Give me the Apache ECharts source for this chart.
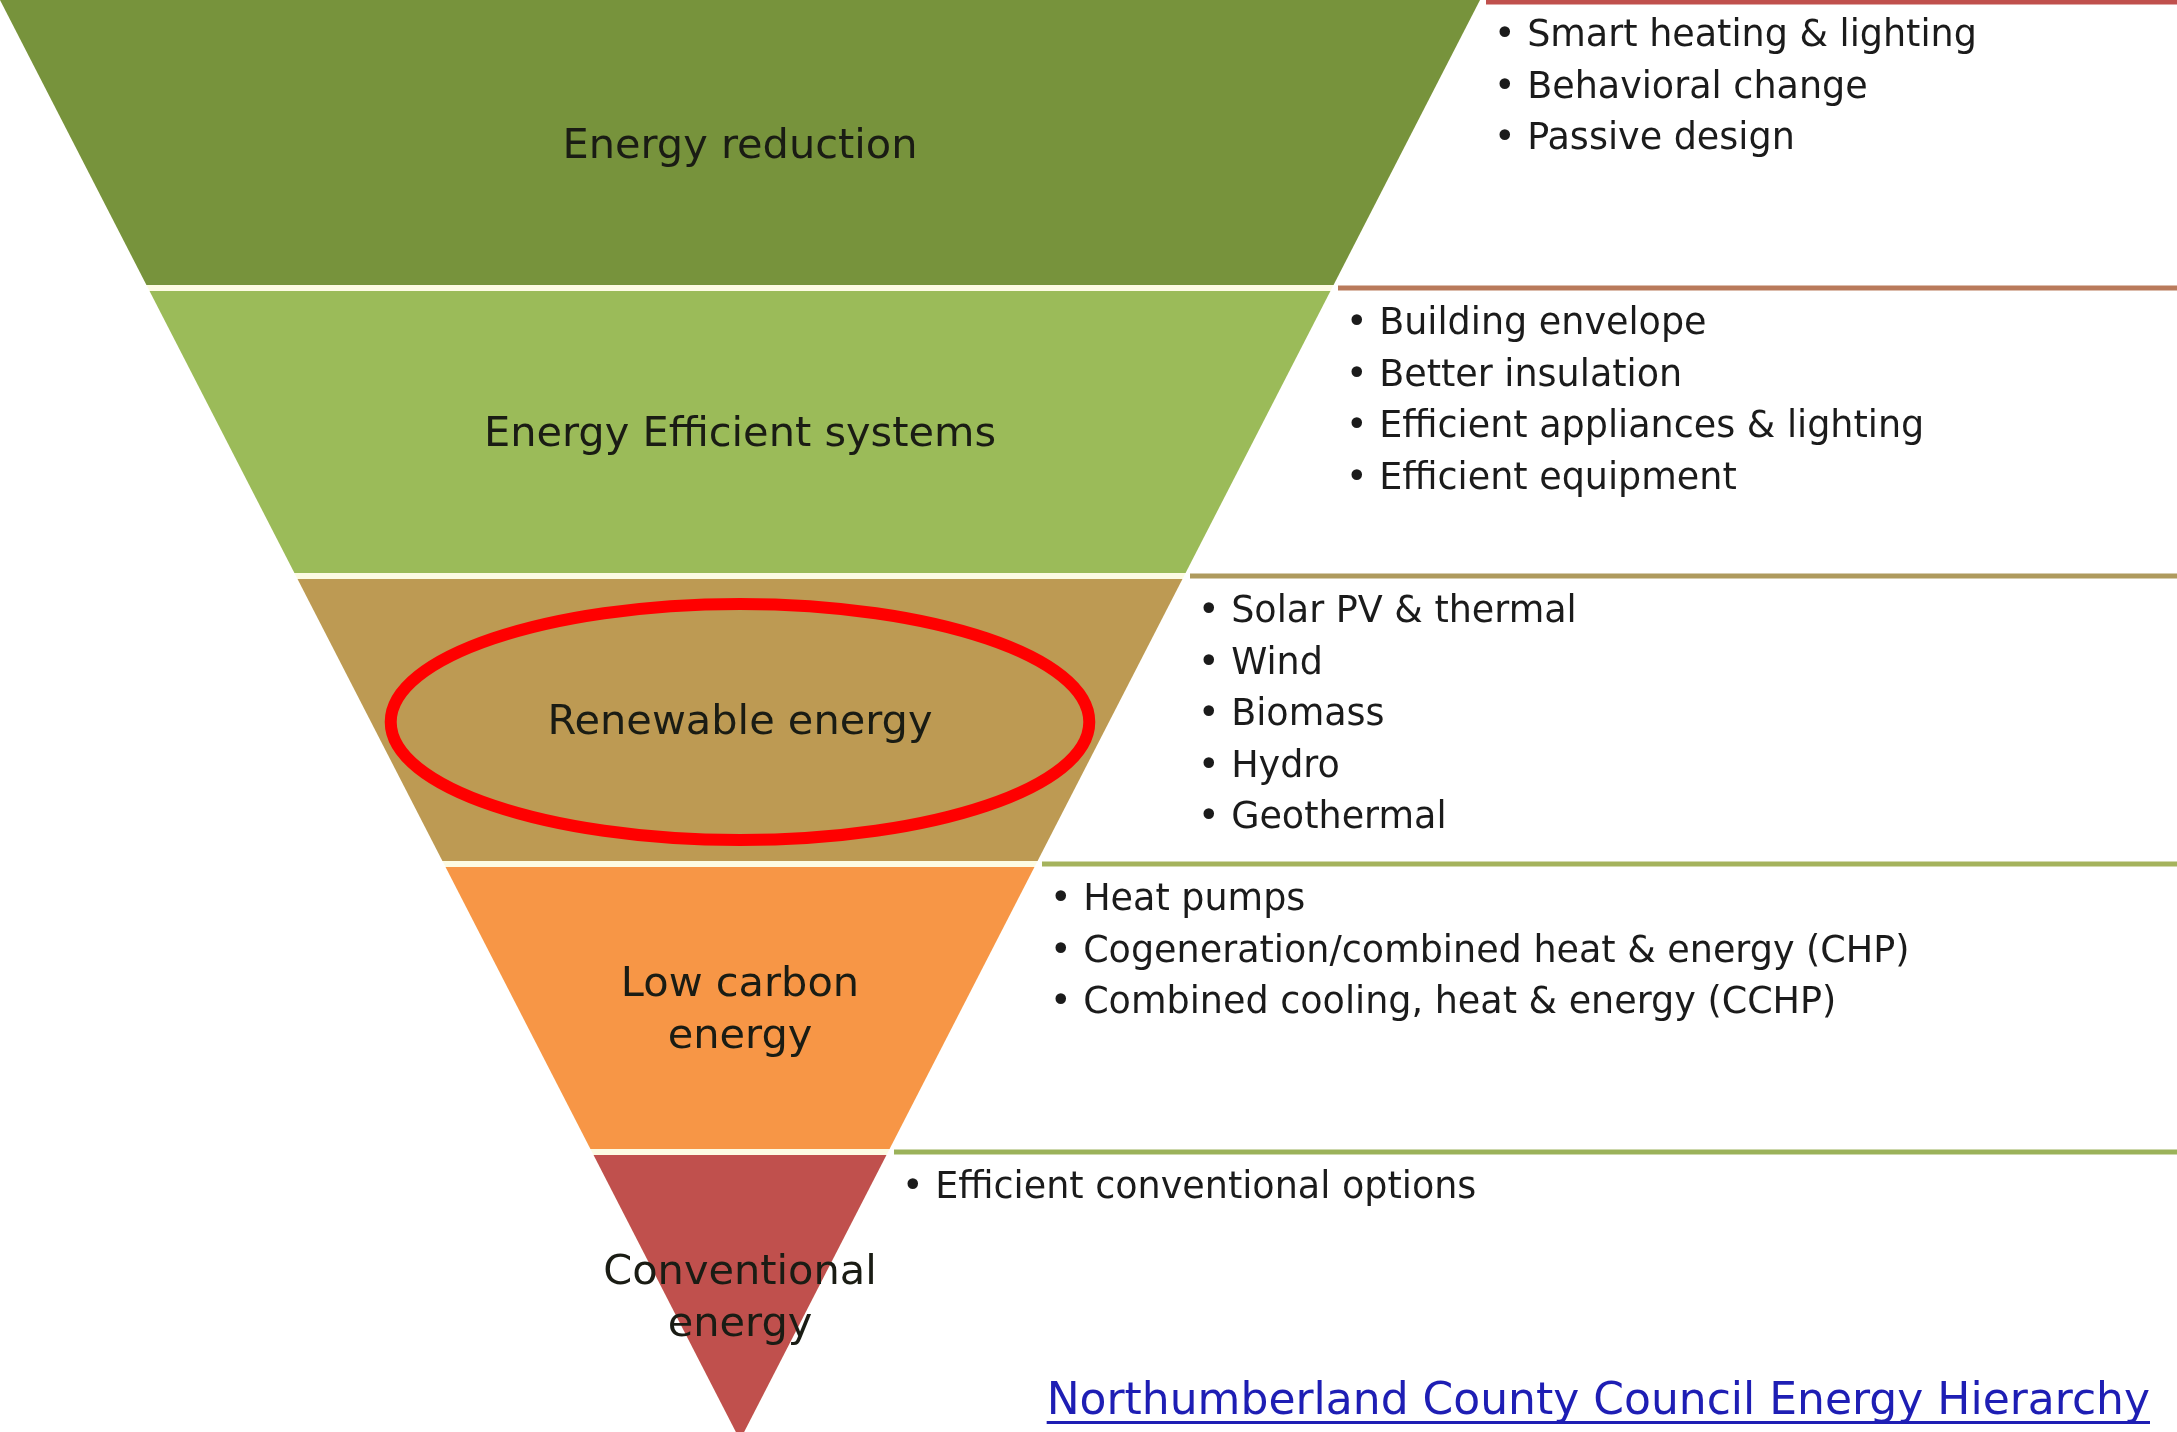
<!DOCTYPE html>
<html lang="en">
<head>
<meta charset="UTF-8">
<title>Energy Hierarchy</title>
<script src="https://cdn.jsdelivr.net/npm/echarts@6/dist/echarts.min.js"></script>
<style>
  html, body { margin: 0; padding: 0; background: #fff; }
  #main { width: 2177px; height: 1432px; }
</style>
</head>
<body>
<div id="main"></div>
<script type="text/javascript">
// tiers of the hierarchy, from top (preferred) to bottom
var tiers = ['Energy reduction', 'Energy Efficient systems', 'Renewable energy', 'Low carbon\nenergy', 'Conventional\nenergy'];
// width of the pyramid at the top edge of each tier, last value = apex
var tierWidths = [100, 80, 60, 40, 20, 0];
var tierColors = ['#77933C', '#9BBB59', '#BD9A53', '#F79646', '#C0504D'];
var ruleColors = ['#C0504D', '#B97A5B', '#AE9A5E', '#A5B35D', '#9BB25A'];
var measures = [
    ['Smart heating & lighting', 'Behavioral change', 'Passive design'],
    ['Building envelope', 'Better insulation', 'Efficient appliances & lighting', 'Efficient equipment'],
    ['Solar PV & thermal', 'Wind', 'Biomass', 'Hydro', 'Geothermal'],
    ['Heat pumps', 'Cogeneration/combined heat & energy (CHP)', 'Combined cooling, heat & energy (CCHP)'],
    ['Efficient conventional options']
];
var highlighted = 2; // tier circled in red
var source = 'Northumberland County Council Energy Hierarchy';

var FONT = '"DejaVu Sans", "Open Sans", sans-serif';
var myChart = echarts.init(document.getElementById('main'));

// right edge of the pyramid (pixels) at tier boundary i
function rightEdge(api, i) {
    return api.coord([tierWidths[i] / 2, i]);
}

function renderBand(params, api) {
    var i = params.dataIndex;
    var unitY = api.size([0, 1])[1];
    var gap = 3 / unitY;
    var t0 = i === 0 ? 0 : gap;
    var t1 = i === tiers.length - 1 ? 0 : gap;
    var hw = function (t) {
        return (tierWidths[i] + (tierWidths[i + 1] - tierWidths[i]) * t) / 2;
    };
    var pts = [
        api.coord([-hw(t0), i + t0]),
        api.coord([hw(t0), i + t0]),
        api.coord([hw(1 - t1), i + 1 - t1]),
        api.coord([-hw(1 - t1), i + 1 - t1])
    ];
    var c = api.coord([0, i + 0.5]);
    return {
        type: 'group',
        children: [{
            type: 'polygon',
            shape: { points: pts },
            style: { fill: tierColors[i] }
        }, {
            type: 'text',
            x: c[0], y: c[1] + 3,
            z2: 10,
            style: {
                text: tiers[i],
                font: '41.5px ' + FONT,
                fill: '#1a1c14',
                align: 'center',
                verticalAlign: 'middle',
                lineHeight: 52
            }
        }]
    };
}

function renderShadow(params, api) {
    var n = tiers.length;
    return {
        type: 'polygon',
        shape: {
            points: [
                api.coord([-tierWidths[0] / 2, 0]),
                api.coord([tierWidths[0] / 2, 0]),
                api.coord([tierWidths[n] / 2, n]),
                api.coord([-tierWidths[n] / 2, n])
            ]
        },
        style: { fill: '#FDFBE3' }
    };
}

function renderMeasures(params, api) {
    var i = params.dataIndex;
    var p = rightEdge(api, i);
    var y = p[1] + (i === 0 ? 2 : 0);
    return {
        type: 'group',
        children: [{
            type: 'line',
            shape: { x1: p[0] + 6, y1: y, x2: api.getWidth(), y2: y },
            style: { stroke: ruleColors[i], lineWidth: 5 }
        }, {
            type: 'text',
            x: p[0] + 14,
            y: p[1] + 11,
            style: {
                text: measures[i].map(function (m) { return '\u2022 ' + m; }).join('\n'),
                font: '36.5px ' + FONT,
                fill: '#1b1b1b',
                align: 'left',
                verticalAlign: 'top',
                lineHeight: 51.5
            }
        }]
    };
}

function renderHighlight(params, api) {
    var c = api.coord([0, highlighted + 0.5]);
    var s = api.size([23.6, 0.41]);
    return {
        type: 'ellipse',
        z2: 5,
        shape: { cx: c[0], cy: c[1] + 2, rx: s[0], ry: s[1] },
        style: { fill: null, stroke: '#FF0000', lineWidth: 12 }
    };
}

var ctx = document.createElement('canvas').getContext('2d');
ctx.font = '44px ' + FONT;
var srcWidth = ctx.measureText(source).width;

var tierData = tiers.map(function (name, i) { return { name: name, value: [0, i] }; });

var option = {
    animation: false,
    backgroundColor: '#ffffff',
    grid: { left: 0, top: 0, width: 1480, height: 1440, outerBoundsMode: 'none' },
    xAxis: { type: 'value', min: -tierWidths[0] / 2, max: tierWidths[0] / 2, show: false },
    yAxis: { type: 'value', min: 0, max: tiers.length, inverse: true, show: false },
    graphic: [{
        type: 'group',
        right: 27,
        top: 1381,
        children: [{
            type: 'text',
            x: 0, y: 0,
            style: { text: source, font: '44px ' + FONT, fill: '#1E1EB4' }
        }, {
            type: 'rect',
            shape: { x: 0, y: 40, width: srcWidth, height: 3 },
            style: { fill: '#1E1EB4' }
        }]
    }],
    series: [{
        type: 'custom',
        name: 'outline',
        renderItem: renderShadow,
        data: [[0, 0]],
        z: 1
    }, {
        type: 'custom',
        name: 'tiers',
        renderItem: renderBand,
        data: tierData,
        z: 2
    }, {
        type: 'custom',
        name: 'measures',
        renderItem: renderMeasures,
        data: tierData,
        z: 3
    }, {
        type: 'custom',
        name: 'highlight',
        renderItem: renderHighlight,
        data: [[0, highlighted]],
        z: 4
    }]
};

myChart.setOption(option);
</script>
</body>
</html>
